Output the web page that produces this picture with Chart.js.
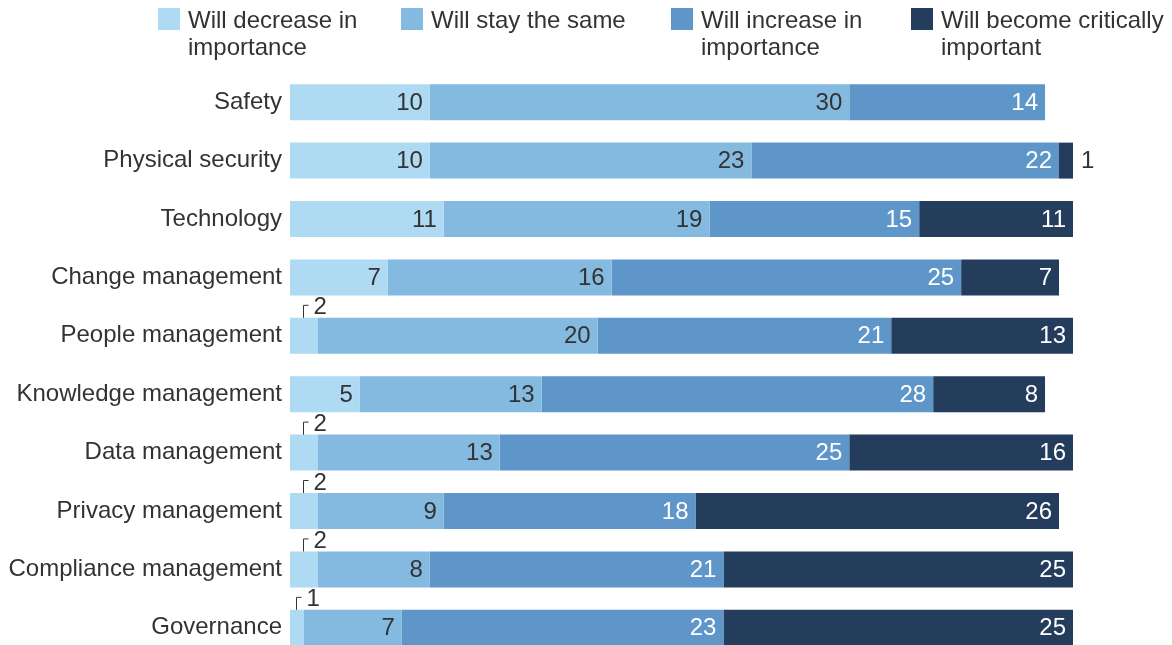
<!DOCTYPE html>
<html>
<head>
<meta charset="utf-8">
<script src="https://cdn.jsdelivr.net/npm/chart.js@4.4.1/dist/chart.umd.min.js"></script>
<style>
  html, body { margin: 0; padding: 0; background: #fff; overflow: hidden; }
  canvas { display: block; }
</style>
</head>
<body>
<canvas id="c" width="1172" height="680" style="width:1172px;height:680px"></canvas>
<script>
const categories = ["Safety", "Physical security", "Technology", "Change management", "People management",
  "Knowledge management", "Data management", "Privacy management", "Compliance management", "Governance"];
const seriesNames = [["Will decrease in", "importance"], ["Will stay the same"], ["Will increase in", "importance"], ["Will become critically", "important"]];
const willDecrease = [10, 10, 11, 7, 2, 5, 2, 2, 2, 1];
const willStaySame = [30, 23, 19, 16, 20, 13, 13, 9, 8, 7];
const willIncrease = [14, 22, 15, 25, 21, 28, 25, 18, 21, 23];
const willBecomeCritical = [0, 1, 11, 7, 13, 8, 16, 26, 25, 25];
const xMax = 56;

const colors = ["#AEDAF3", "#84B9E0", "#5E96C9", "#243D5C"];
const labelColors = ["#333333", "#333333", "#ffffff", "#ffffff"];
const FONT = "Liberation Sans, Arial, sans-serif";
const FS = 24;

const series = [willDecrease, willStaySame, willIncrease, willBecomeCritical];

const labelPlugin = {
  id: 'barLabels',
  afterDatasetsDraw(chart) {
    const ctx = chart.ctx;
    ctx.save();
    ctx.font = FS + "px " + FONT;
    ctx.textBaseline = 'alphabetic';
    chart.data.datasets.forEach((ds, di) => {
      const meta = chart.getDatasetMeta(di);
      meta.data.forEach((bar, i) => {
        const v = ds.data[i];
        if (!v) return;
        const left = Math.min(bar.base, bar.x), right = Math.max(bar.base, bar.x);
        const top = bar.y - bar.height / 2;
        if (v >= 3) {
          ctx.fillStyle = labelColors[di];
          ctx.textAlign = 'right';
          ctx.fillText(String(v), right - 7, bar.y + 7.5);
        } else if (di === 0) {
          const cx = Math.round((left + right) / 2) - 0.5;
          ctx.strokeStyle = '#333';
          ctx.lineWidth = 1;
          ctx.beginPath();
          ctx.moveTo(cx, top);
          ctx.lineTo(cx, top - 12.5);
          ctx.lineTo(cx + 5, top - 12.5);
          ctx.stroke();
          ctx.fillStyle = '#333';
          ctx.textAlign = 'left';
          ctx.fillText(String(v), cx + 10, top - 3.5);
        } else {
          ctx.fillStyle = '#333';
          ctx.textAlign = 'left';
          ctx.fillText(String(v), right + 8, bar.y + 7.5);
        }
      });
    });
    ctx.restore();
  }
};

const legendPlugin = {
  id: 'topLegend',
  afterDraw(chart) {
    const ctx = chart.ctx;
    const xs = [158, 401, 671, 911];
    ctx.save();
    ctx.font = FS + "px " + FONT;
    ctx.textAlign = 'left';
    ctx.textBaseline = 'alphabetic';
    seriesNames.forEach((lines, i) => {
      ctx.fillStyle = colors[i];
      ctx.fillRect(xs[i], 8, 22, 22);
      ctx.fillStyle = '#333';
      lines.forEach((ln, j) => ctx.fillText(ln, xs[i] + 30, 28 + j * 27));
    });
    ctx.restore();
  }
};

new Chart(document.getElementById('c'), {
  type: 'bar',
  data: {
    labels: categories,
    datasets: series.map((d, i) => ({
      label: seriesNames[i].join(' '),
      data: d,
      backgroundColor: colors[i],
      borderWidth: 0,
      barPercentage: 0.616,
      categoryPercentage: 1.0
    }))
  },
  options: {
    indexAxis: 'y',
    responsive: false,
    devicePixelRatio: 1,
    animation: false,
    layout: { padding: { top: 73, bottom: 23, left: 0, right: 99 } },
    plugins: { legend: { display: false }, tooltip: { enabled: false } },
    scales: {
      x: { stacked: true, display: false, min: 0, max: xMax },
      y: {
        stacked: true,
        grid: { display: false, drawTicks: false },
        border: { display: false },
        ticks: { color: '#333', font: { family: FONT, size: FS }, padding: 8 },
        afterFit(scale) { scale.width = 290; }
      }
    }
  },
  plugins: [labelPlugin, legendPlugin]
});
</script>
</body>
</html>
